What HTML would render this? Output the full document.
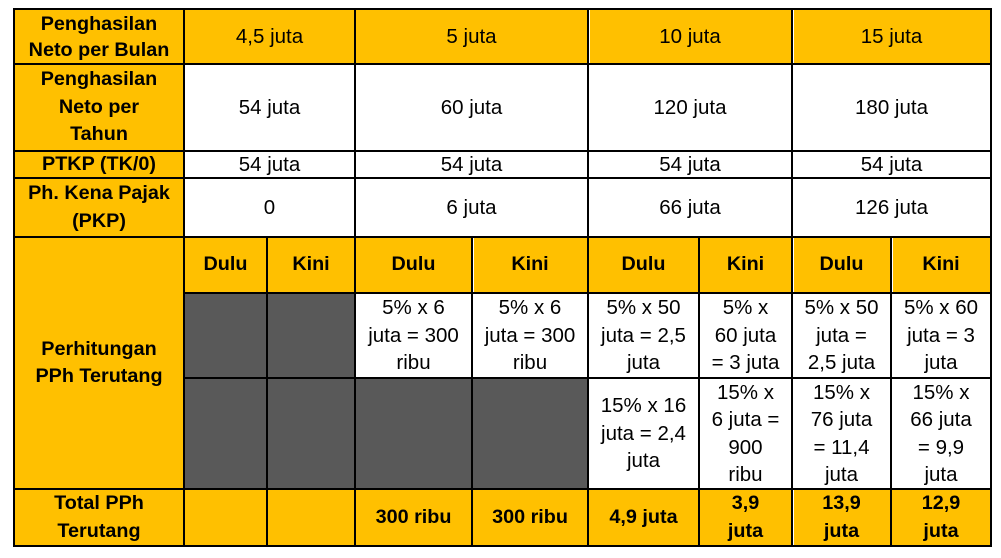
<!DOCTYPE html>
<html>
<head>
<meta charset="utf-8">
<style>
html,body{margin:0;padding:0;background:#fff;}
body{width:1001px;height:558px;position:relative;overflow:hidden;font-family:"Liberation Sans",Arial,sans-serif;color:#000;}
.frame{position:absolute;left:13px;top:8px;width:979px;height:539px;background:#000;}
.c{position:absolute;display:flex;align-items:center;justify-content:center;text-align:center;line-height:27.5px;font-size:20.5px;white-space:nowrap;}
.y{background:#FFC000;}
.w{background:#fff;}
.g{background:#595959;}
.b{font-weight:bold;font-size:19.8px;}
.ws{position:absolute;width:1px;background:#fff;}
</style>
</head>
<body>
<div class="frame"></div>

<!-- Row A -->
<div class="c y b" style="left:15px;top:10px;width:168px;height:53px;line-height:26px;">Penghasilan<br>Neto per Bulan</div>
<div class="c y" style="left:185px;top:10px;width:169px;height:53px;">4,5 juta</div>
<div class="c y" style="left:356px;top:10px;width:231px;height:53px;">5 juta</div>
<div class="c y" style="left:589px;top:10px;width:202px;height:53px;">10 juta</div>
<div class="c y" style="left:793px;top:10px;width:197px;height:53px;">15 juta</div>

<!-- Row B -->
<div class="c y b" style="left:15px;top:65px;width:168px;height:85px;">Penghasilan<br>Neto per<br>Tahun</div>
<div class="c w" style="left:185px;top:65px;width:169px;height:85px;">54 juta</div>
<div class="c w" style="left:356px;top:65px;width:231px;height:85px;">60 juta</div>
<div class="c w" style="left:589px;top:65px;width:202px;height:85px;">120 juta</div>
<div class="c w" style="left:793px;top:65px;width:197px;height:85px;">180 juta</div>

<!-- Row C -->
<div class="c y b" style="left:15px;top:152px;width:168px;height:25px;">PTKP (TK/0)</div>
<div class="c w" style="left:185px;top:152px;width:169px;height:25px;">54 juta</div>
<div class="c w" style="left:356px;top:152px;width:231px;height:25px;">54 juta</div>
<div class="c w" style="left:589px;top:152px;width:202px;height:25px;">54 juta</div>
<div class="c w" style="left:793px;top:152px;width:197px;height:25px;">54 juta</div>

<!-- Row D -->
<div class="c y b" style="left:15px;top:179px;width:168px;height:57px;">Ph. Kena Pajak<br>(PKP)</div>
<div class="c w" style="left:185px;top:179px;width:169px;height:57px;">0</div>
<div class="c w" style="left:356px;top:179px;width:231px;height:57px;">6 juta</div>
<div class="c w" style="left:589px;top:179px;width:202px;height:57px;">66 juta</div>
<div class="c w" style="left:793px;top:179px;width:197px;height:57px;">126 juta</div>

<!-- Perhitungan label -->
<div class="c y b" style="left:15px;top:238px;width:168px;height:250px;">Perhitungan<br>PPh Terutang</div>

<!-- Row E -->
<div class="c y b" style="left:185px;top:238px;width:81px;height:54px;">Dulu</div>
<div class="c y b" style="left:268px;top:238px;width:86px;height:54px;">Kini</div>
<div class="c y b" style="left:356px;top:238px;width:115px;height:54px;">Dulu</div>
<div class="c y b" style="left:473px;top:238px;width:114px;height:54px;">Kini</div>
<div class="c y b" style="left:589px;top:238px;width:109px;height:54px;">Dulu</div>
<div class="c y b" style="left:700px;top:238px;width:91px;height:54px;">Kini</div>
<div class="c y b" style="left:793px;top:238px;width:97px;height:54px;">Dulu</div>
<div class="c y b" style="left:892px;top:238px;width:98px;height:54px;">Kini</div>

<!-- Row F -->
<div class="c g" style="left:185px;top:294px;width:81px;height:83px;"></div>
<div class="c g" style="left:268px;top:294px;width:86px;height:83px;"></div>
<div class="c w" style="left:356px;top:294px;width:115px;height:83px;">5% x 6<br>juta = 300<br>ribu</div>
<div class="c w" style="left:473px;top:294px;width:114px;height:83px;">5% x 6<br>juta = 300<br>ribu</div>
<div class="c w" style="left:589px;top:294px;width:109px;height:83px;">5% x 50<br>juta = 2,5<br>juta</div>
<div class="c w" style="left:700px;top:294px;width:91px;height:83px;">5% x<br>60 juta<br>= 3 juta</div>
<div class="c w" style="left:793px;top:294px;width:97px;height:83px;">5% x 50<br>juta =<br>2,5 juta</div>
<div class="c w" style="left:892px;top:294px;width:98px;height:83px;">5% x 60<br>juta = 3<br>juta</div>

<!-- Row G -->
<div class="c g" style="left:185px;top:379px;width:81px;height:109px;"></div>
<div class="c g" style="left:268px;top:379px;width:86px;height:109px;"></div>
<div class="c g" style="left:356px;top:379px;width:115px;height:109px;"></div>
<div class="c g" style="left:473px;top:379px;width:114px;height:109px;"></div>
<div class="c w" style="left:589px;top:379px;width:109px;height:109px;">15% x 16<br>juta = 2,4<br>juta</div>
<div class="c w" style="left:700px;top:379px;width:91px;height:109px;">15% x<br>6 juta =<br>900<br>ribu</div>
<div class="c w" style="left:793px;top:379px;width:97px;height:109px;">15% x<br>76 juta<br>= 11,4<br>juta</div>
<div class="c w" style="left:892px;top:379px;width:98px;height:109px;">15% x<br>66 juta<br>= 9,9<br>juta</div>

<!-- Row H -->
<div class="c y b" style="left:15px;top:490px;width:168px;height:55px;">Total PPh<br>Terutang</div>
<div class="c y b" style="left:185px;top:490px;width:81px;height:55px;"></div>
<div class="c y b" style="left:268px;top:490px;width:86px;height:55px;"></div>
<div class="c y b" style="left:356px;top:490px;width:115px;height:55px;">300 ribu</div>
<div class="c y b" style="left:473px;top:490px;width:114px;height:55px;">300 ribu</div>
<div class="c y b" style="left:589px;top:490px;width:109px;height:55px;">4,9 juta</div>
<div class="c y b" style="left:700px;top:490px;width:91px;height:55px;">3,9<br>juta</div>
<div class="c y b" style="left:793px;top:490px;width:97px;height:55px;">13,9<br>juta</div>
<div class="c y b" style="left:892px;top:490px;width:98px;height:55px;">12,9<br>juta</div>

<!-- subtle white stripes -->
<div class="ws" style="left:589px;top:10px;height:53px;"></div>
<div class="ws" style="left:793px;top:10px;height:53px;"></div>
<div class="ws" style="left:473px;top:238px;height:54px;"></div>
<div class="ws" style="left:793px;top:238px;height:54px;"></div>
<div class="ws" style="left:892px;top:238px;height:54px;"></div>
<div class="ws" style="left:793px;top:490px;height:55px;"></div>
</body>
</html>
